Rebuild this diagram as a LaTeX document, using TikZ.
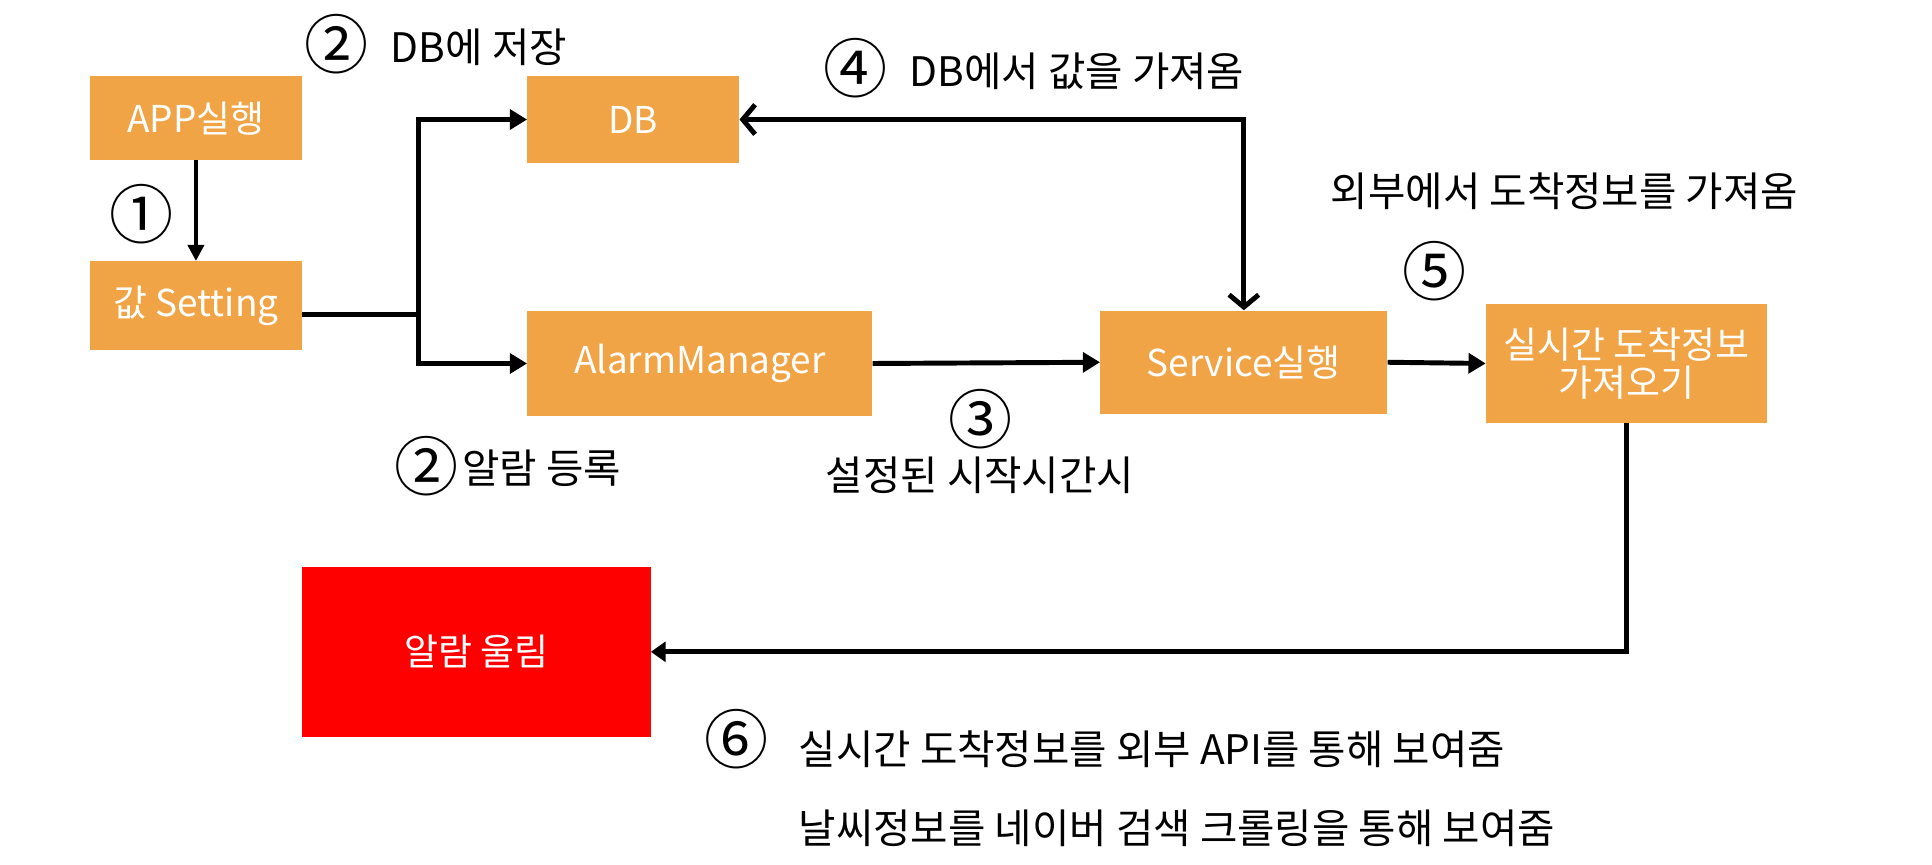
\documentclass[tikz,border=0pt]{standalone}
\usepackage{fontspec}
\setmainfont{Noto Sans CJK KR}
\usetikzlibrary{arrows.meta}
\definecolor{boxorange}{HTML}{F1A446}
\definecolor{boxred}{HTML}{FF0000}
\tikzset{
  obox/.style={fill=boxorange, text=white, inner sep=0pt, align=center,
    font=\fontsize{30}{35}\selectfont},
  rbox/.style={fill=boxred, text=white, inner sep=0pt, align=center,
    font=\fontsize{30}{35}\selectfont},
  conn/.style={line width=4pt, -{Triangle[length=14pt,width=16pt]}},
  thinconn/.style={line width=3pt, -{Triangle[length=13pt,width=13pt]}},
  barbconn/.style={line width=4pt, {Straight Barb[length=10pt,width=24pt,line width=4pt]}-{Straight Barb[length=10pt,width=24pt,line width=4pt]}},
  lbl/.style={inner sep=0pt, font=\fontsize{33}{38}\selectfont, text=black},
  num/.style={inner sep=0pt, font=\fontsize{52}{56}\selectfont, text=black},
}
\begin{document}
\begin{tikzpicture}[x=1pt,y=-1pt]
\useasboundingbox[fill=white] (0,0) rectangle (1568,702);
% boxes
\node[obox, minimum width=172pt, minimum height=68pt] (app) at (159,96) {APP실행};
\node[obox, minimum width=172pt, minimum height=72pt] (set) at (159,248) {값 Setting};
\node[obox, minimum width=172pt, minimum height=70pt] (db) at (514,97) {DB};
\node[obox, minimum width=280pt, minimum height=86pt] (am) at (568,295) {AlarmManager};
\node[obox, minimum width=233pt, minimum height=84pt] (svc) at (1009.5,294) {Service실행};
\node[obox, minimum width=228pt, minimum height=96pt] (rt) at (1320,295) {실시간 도착정보\\[-4pt]가져오기};
\node[rbox, minimum width=283pt, minimum height=138pt] (alarm) at (386.5,529) {알람 울림};
% connectors
\coordinate (j) at (340,255);
\draw[thinconn] (app.south) -- (set.north);
\draw[line width=4pt] (set.east |- j) -- (j);
\draw[conn] (j) |- (db.west);
\draw[conn] (j) |- (am.west);
\draw[conn] (am.east) -- (svc.west);
\draw[conn] (svc.east) -- (rt.west);
\draw[barbconn] (db.east) -| (svc.north);
\draw[line width=4pt, -{Triangle[length=12pt,width=16pt]}] (rt.south) |- (alarm.east);
% labels
\node[num] (n1) at (115,174) {①};
\node[num] (n2a) at (273,36) {②};
\node[lbl, anchor=west] (t2a) at (317,38) {DB에 저장};
\node[num] (n4) at (694,55) {④};
\node[lbl, anchor=west] (t4) at (738,58) {DB에서 값을 가져옴};
\node[lbl, anchor=west] (t5a) at (1080,155) {외부에서 도착정보를 가져옴};
\node[num] (n5) at (1164,220) {⑤};
\node[num] (n3) at (796,340) {③};
\node[lbl, anchor=west] (t3) at (670,386) {설정된 시작시간시};
\node[num] (n2b) at (346,378) {②};
\node[lbl, anchor=west] (t2b) at (375,380) {알람 등록};
\node[num] (n6) at (598,600) {⑥};
\node[lbl, anchor=west] (t6a) at (648,608) {실시간 도착정보를 외부 API를 통해 보여줌};
\node[lbl, anchor=west] (t6b) at (648,672) {날씨정보를 네이버 검색 크롤링을 통해 보여줌};
\end{tikzpicture}
\end{document}
